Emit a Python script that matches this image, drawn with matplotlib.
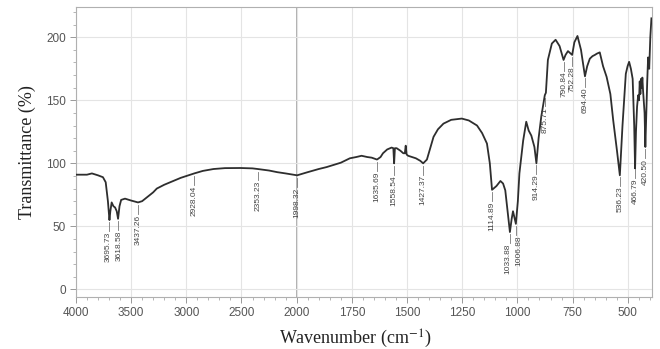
import numpy as np
import matplotlib.pyplot as plt
from matplotlib.ticker import FixedLocator

plt.rcParams['font.family'] = ['Liberation Sans', 'DejaVu Sans']
plt.rcParams['mathtext.fontset'] = 'stix'

# Widmo FTIR
wavenumber = [4000, 3900, 3855, 3800, 3755, 3730, 3710, 3696, 3688, 3676, 3660, 3645, 3630,
              3618, 3605, 3590, 3555, 3500, 3437, 3400, 3357, 3300, 3267, 3200, 3145, 3050,
              2928, 2850, 2753, 2650, 2509, 2400, 2353, 2250, 2176, 2100, 1998, 1950, 1900,
              1865, 1800, 1759, 1730, 1706, 1680, 1660, 1636, 1620, 1609, 1590, 1570, 1562,
              1558.5, 1555, 1547, 1530, 1517, 1510, 1506, 1502, 1495, 1460, 1440, 1427, 1410,
              1395, 1380, 1360, 1335, 1300, 1252, 1220, 1183, 1160, 1138, 1125, 1115, 1095,
              1077, 1065, 1055, 1043, 1034, 1026, 1020, 1012, 1007, 998, 991, 974, 960, 949,
              937, 923, 914, 904, 892, 876, 871, 862, 844, 827, 809, 791, 782, 771, 752, 742,
              728, 712, 694, 684, 672, 660, 649, 640, 627, 612, 596, 579, 566, 549, 536, 524,
              509, 501, 494, 486, 478, 471, 467, 463, 458, 453, 449, 446, 443, 440, 437, 434,
              431, 428, 424, 420.5, 416, 412, 408, 403, 398, 393]
transmittance = [91, 91, 92, 90.5, 89, 85, 70, 55, 62, 69, 66, 65, 62,
                 56, 66, 71, 72, 70.5, 69, 70, 73, 77, 80, 83, 85, 88.5,
                 92, 94, 95.5, 96.2, 96.3, 96, 95.5, 94.3, 93, 92, 90.5, 93, 95.5,
                 97, 100.5, 104, 105, 106, 105, 104.5, 103, 105, 108, 111, 112.5, 112,
                 100, 112, 112, 110, 108, 108, 114, 107, 106, 104, 102, 100, 103,
                 112, 121, 127, 131.5, 134.5, 135.5, 134, 130, 124, 115.7, 100, 79, 82,
                 86, 84, 78.6, 60, 45.5, 56, 62, 56, 52, 70, 92, 118, 133, 126,
                 122, 113, 100, 120, 137, 154, 156, 182, 195, 198, 193, 182, 186, 189, 186, 196,
                 201, 190, 169, 177, 183, 185, 186, 187, 188, 177, 168.6, 155, 134, 110, 90.5, 130,
                 171, 177, 180.5, 175, 167, 130, 96, 125, 145, 154, 150, 165, 155, 167, 160, 168,
                 158, 150, 140, 113, 140, 165, 184, 175, 200, 215]

# Etykiety pików
peak_labels = ['3695.73', '3618.58', '3437.26', '2928.04', '2353.23', '1998.32', '1635.69',
               '1558.54', '1427.37', '1114.89', '1033.88', '1006.88', '914.29', '875.71',
               '790.84', '752.28', '694.40', '536.23', '466.79', '420.50']
# drobne przesunięcia w poziomie (punkty), żeby etykiety się nie nakładały
label_shift = {'1033.88': -1.8, '1006.88': 1.8, '3695.73': -0.8, '3618.58': 0.8}

x_major = [4000, 3500, 3000, 2500, 2000, 1750, 1500, 1250, 1000, 750, 500]
x_minor = list(range(4000, 2000, -100)) + list(range(2000, 390, -50))
y_major = [0, 50, 100, 150, 200]


def fwd(x):
    x = np.asarray(x, dtype=float)
    return np.where(x >= 2000, (x - 2000) / 500.0, (x - 2000) / 250.0)


def inv(t):
    t = np.asarray(t, dtype=float)
    return np.where(t >= 0, 2000 + 500 * t, 2000 + 250 * t)


fig = plt.figure(figsize=(6.6, 3.49), dpi=100)
ax = fig.add_axes([0.115, 0.149, 0.873, 0.831])
ax.set_xscale('function', functions=(fwd, inv))
ax.set_xlim(4000, 390)
ax.set_ylim(-6, 224)

ax.xaxis.set_major_locator(FixedLocator(x_major))
ax.xaxis.set_minor_locator(FixedLocator(x_minor))
ax.set_yticks(y_major)
ax.yaxis.set_minor_locator(FixedLocator(np.arange(0, 221, 10)))
ax.set_xticklabels([str(v) for v in x_major])

ax.grid(True, which='major', color='#e4e4e4', lw=0.8, zorder=0)
ax.axvline(2000, color='#9a9a9a', lw=1.1, zorder=1)

ax.plot(wavenumber, transmittance, color='#2e2e2e', lw=1.3, zorder=3)

# podpisy pików
wn_sorted = np.array(wavenumber)[::-1]
tr_sorted = np.array(transmittance)[::-1]
for lab in peak_labels:
    x = float(lab)
    y = np.interp(x, wn_sorted, tr_sorted)
    ax.plot([x, x], [y - 2, y - 9], color='#777777', lw=0.6, zorder=2)
    ax.annotate(lab, xy=(x, y - 9.5), xytext=(label_shift.get(lab, 0), 0),
                textcoords='offset points', rotation=90, ha='center', va='top',
                fontsize=6, color='#444444',
                family=['Liberation Sans Narrow', 'Liberation Sans'])

for sp in ax.spines.values():
    sp.set_color('#b0b0b0')
    sp.set_linewidth(0.8)

ax.tick_params(which='major', direction='out', length=4, width=0.7, color='#999999',
               labelsize=8.5, labelcolor='#555555', pad=3)
ax.tick_params(which='minor', direction='out', length=2.5, width=0.6, color='#aaaaaa')

ax.set_xlabel('Wavenumber (cm$^{-1}$)', family='Liberation Serif', fontsize=13, color='#222222')
ax.set_ylabel('Transmittance (%)', family='Liberation Serif', fontsize=13, color='#222222')
ax.xaxis.set_label_coords(0.485, -0.105)
ax.yaxis.set_label_coords(-0.07, 0.5)

fig.savefig('out.png', dpi=100)
